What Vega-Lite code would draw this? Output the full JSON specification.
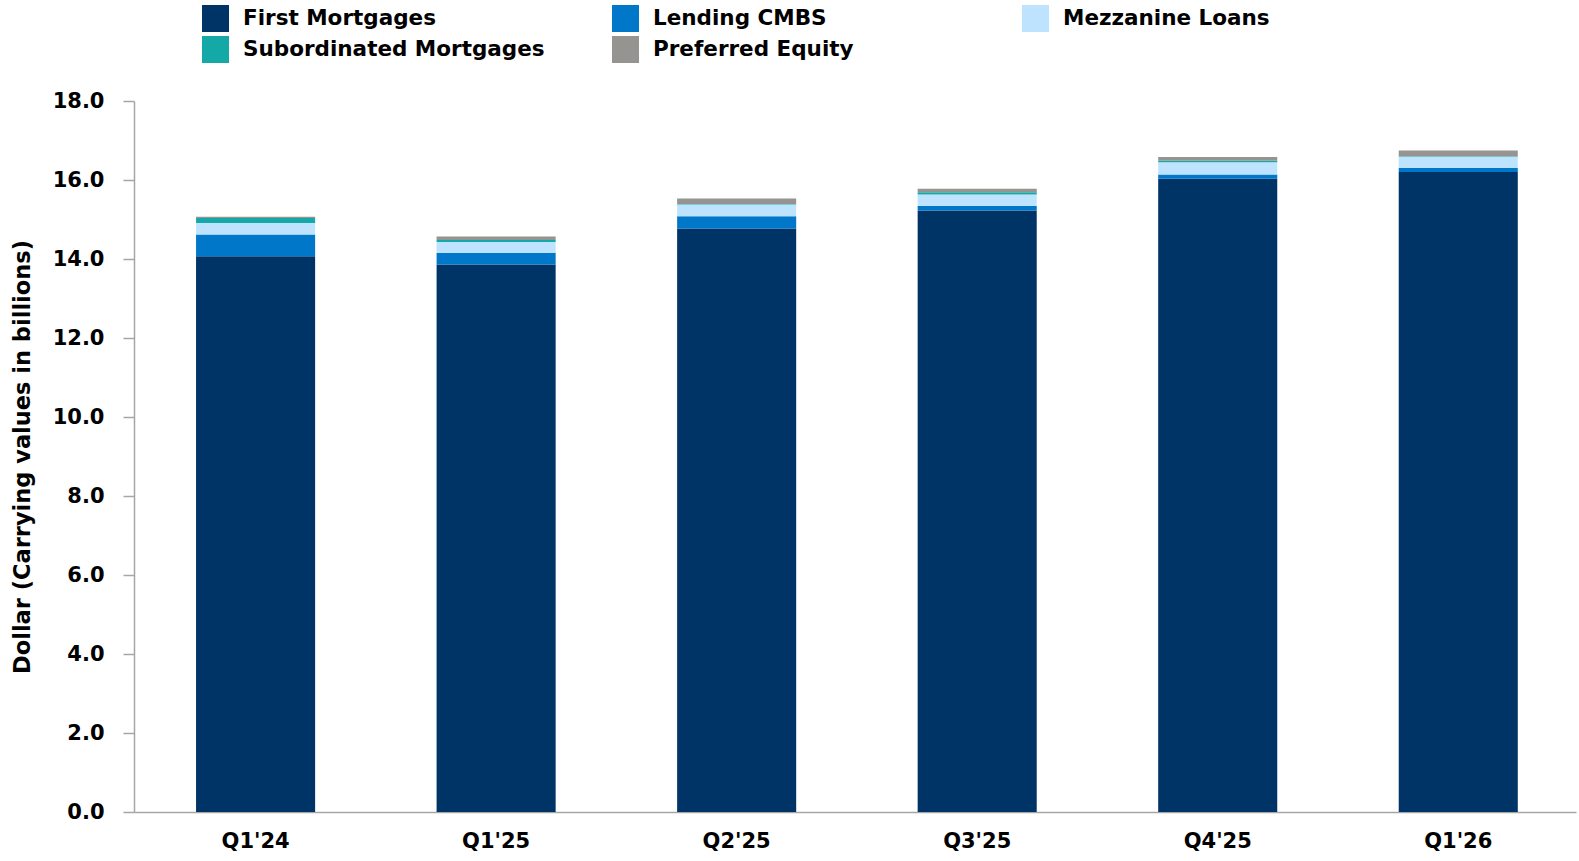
{
  "$schema": "https://vega.github.io/schema/vega-lite/v6.json",
  "autosize": "none",
  "width": 1442,
  "height": 711,
  "padding": {"left": 134, "top": 101, "right": 3, "bottom": 49},
  "background": "white",
  "config": {
    "view": {"stroke": null},
    "font": "DejaVu Sans",
    "axis": {"grid": false, "domainColor": "#a6a6a6", "domainWidth": 1.5, "tickColor": "#a6a6a6", "tickWidth": 1.5, "labelColor": "#000000", "labelFont": "DejaVu Sans", "labelFontWeight": "bold", "labelFontSize": 21, "titleFont": "DejaVu Sans", "titleFontWeight": "bold", "titleFontSize": 22.5, "titleColor": "#000000"},
    "legend": {"labelFont": "DejaVu Sans", "labelFontWeight": "bold", "labelFontSize": 21.5, "labelColor": "#000000"}
  },
  "data": {
    "values": [
      {"q": "Q1'24", "cat": "First Mortgages", "o": 1, "v": 14.07},
      {"q": "Q1'24", "cat": "Lending CMBS", "o": 2, "v": 0.55},
      {"q": "Q1'24", "cat": "Mezzanine Loans", "o": 3, "v": 0.29},
      {"q": "Q1'24", "cat": "Subordinated Mortgages", "o": 4, "v": 0.13},
      {"q": "Q1'24", "cat": "Preferred Equity", "o": 5, "v": 0.03},
      {"q": "Q1'25", "cat": "First Mortgages", "o": 1, "v": 13.86},
      {"q": "Q1'25", "cat": "Lending CMBS", "o": 2, "v": 0.30},
      {"q": "Q1'25", "cat": "Mezzanine Loans", "o": 3, "v": 0.27},
      {"q": "Q1'25", "cat": "Subordinated Mortgages", "o": 4, "v": 0.05},
      {"q": "Q1'25", "cat": "Preferred Equity", "o": 5, "v": 0.09},
      {"q": "Q2'25", "cat": "First Mortgages", "o": 1, "v": 14.77},
      {"q": "Q2'25", "cat": "Lending CMBS", "o": 2, "v": 0.31},
      {"q": "Q2'25", "cat": "Mezzanine Loans", "o": 3, "v": 0.30},
      {"q": "Q2'25", "cat": "Subordinated Mortgages", "o": 4, "v": 0.01},
      {"q": "Q2'25", "cat": "Preferred Equity", "o": 5, "v": 0.14},
      {"q": "Q3'25", "cat": "First Mortgages", "o": 1, "v": 15.23},
      {"q": "Q3'25", "cat": "Lending CMBS", "o": 2, "v": 0.11},
      {"q": "Q3'25", "cat": "Mezzanine Loans", "o": 3, "v": 0.29},
      {"q": "Q3'25", "cat": "Subordinated Mortgages", "o": 4, "v": 0.06},
      {"q": "Q3'25", "cat": "Preferred Equity", "o": 5, "v": 0.09},
      {"q": "Q4'25", "cat": "First Mortgages", "o": 1, "v": 16.03},
      {"q": "Q4'25", "cat": "Lending CMBS", "o": 2, "v": 0.11},
      {"q": "Q4'25", "cat": "Mezzanine Loans", "o": 3, "v": 0.31},
      {"q": "Q4'25", "cat": "Subordinated Mortgages", "o": 4, "v": 0.04},
      {"q": "Q4'25", "cat": "Preferred Equity", "o": 5, "v": 0.09},
      {"q": "Q1'26", "cat": "First Mortgages", "o": 1, "v": 16.20},
      {"q": "Q1'26", "cat": "Lending CMBS", "o": 2, "v": 0.11},
      {"q": "Q1'26", "cat": "Mezzanine Loans", "o": 3, "v": 0.28},
      {"q": "Q1'26", "cat": "Subordinated Mortgages", "o": 4, "v": 0.01},
      {"q": "Q1'26", "cat": "Preferred Equity", "o": 5, "v": 0.15}
    ]
  },
  "mark": {"type": "bar"},
  "encoding": {
    "x": {
      "field": "q", "type": "nominal", "sort": null,
      "scale": {"paddingInner": 0.505, "paddingOuter": 0.25, "align": 0.516},
      "axis": {"title": null, "labelAngle": 0, "ticks": false, "labelPadding": 18}
    },
    "y": {
      "field": "v", "type": "quantitative", "stack": "zero",
      "scale": {"domain": [0, 18], "nice": false},
      "axis": {"title": "Dollar (Carrying values in billions)", "values": [0, 2, 4, 6, 8, 10, 12, 14, 16, 18], "format": ".1f", "tickSize": 11, "labelPadding": 19, "titlePadding": 18}
    },
    "color": {
      "field": "cat", "type": "nominal",
      "scale": {
        "domain": ["First Mortgages", "Lending CMBS", "Mezzanine Loans", "Subordinated Mortgages", "Preferred Equity"],
        "range": ["#003366", "#0077C8", "#BDE3FF", "#14A9A7", "#969491"]
      },
      "legend": {
        "title": null, "orient": "none", "legendX": 68, "legendY": -96,
        "values": ["First Mortgages", "Subordinated Mortgages", "Lending CMBS", "Preferred Equity", "Mezzanine Loans"],
        "columns": 3, "gridAlign": "all", "columnPadding": 67, "rowPadding": 4,
        "symbolType": "square", "symbolSize": 729, "symbolStrokeWidth": 0, "labelOffset": 14, "labelLimit": 400
      }
    },
    "order": {"field": "o", "type": "quantitative"}
  }
}
